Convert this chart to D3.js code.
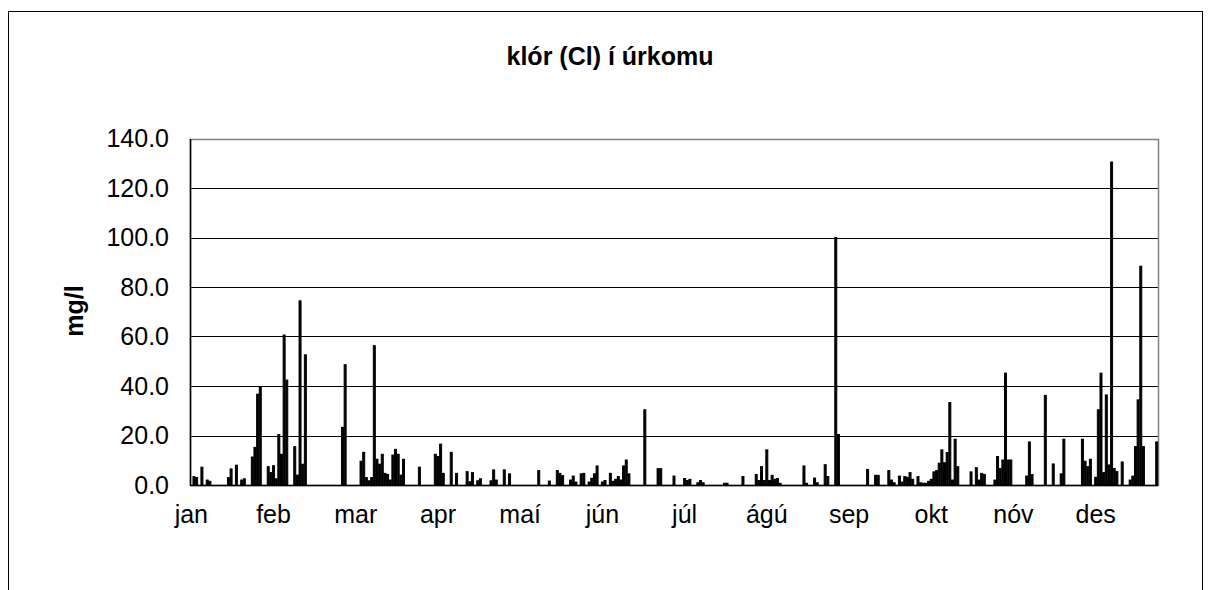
<!DOCTYPE html>
<html>
<head>
<meta charset="utf-8">
<script src="https://cdn.jsdelivr.net/npm/d3@7"></script>
<style>
  body { margin: 0; background: #fff; }
  text { font-family: "Liberation Sans", Arial, sans-serif; fill: #000; }
</style>
</head>
<body>
<svg id="chart" width="1213" height="590"></svg>
<script>
// DATA
// day of year (0 = 1. jan) that has a measurement, and the chloride value in mg/l
const dayIdx = [
  1, 2, 4, 6, 7, 14, 15, 17, 19, 20, 23, 24, 25, 26, 29, 30, 31, 32, 33, 34, 35, 36,
  39, 40, 41, 42, 43, 57, 58,
  64, 65, 66, 67, 68, 69, 70, 71, 72, 73, 74, 75, 76, 77, 78, 79, 80, 86,
  92, 93, 94, 95, 98, 100, 104, 105, 106, 108, 109, 113, 114, 115, 118, 120,
  131, 135, 138, 139, 140, 143, 144, 145, 147, 148, 150, 151, 152, 153, 155, 156,
  158, 159, 160, 161, 162, 163, 164, 165, 171, 176, 177,
  182, 186, 187, 188, 191, 192, 193, 201, 202, 208, 213, 214, 215, 216, 217, 218,
  219, 220, 221, 222, 231, 232, 235, 236, 239, 240, 243, 244,
  255, 258, 259, 263, 264, 265, 267, 268, 269, 270, 271, 272, 274, 275, 276, 277,
  278, 279, 280, 281, 282, 283, 284, 285, 286, 287, 288, 289, 294, 296, 297, 298, 299,
  303, 304, 305, 306, 307, 308, 309, 315, 316, 317, 322, 325, 328, 329,
  336, 337, 338, 339, 341, 342, 343, 344, 345, 346, 347, 348, 349, 351,
  354, 355, 356, 357, 358, 359, 364
];
const clValues = [
  3.4, 3.0, 7.2, 2.0, 1.5, 3.0, 6.5, 8.0, 2.0, 2.5, 11.3, 15.2, 36.7, 39.4, 7.4, 5.0, 7.8, 2.5, 20.4, 12.4, 60.6, 42.4,
  15.5, 4.0, 74.4, 8.4, 52.6, 23.3, 48.6,
  9.6, 13.2, 3.0, 1.7, 3.0, 56.3, 10.4, 8.4, 12.4, 4.7, 4.3, 2.0, 12.1, 14.4, 12.4, 4.0, 10.4, 7.2,
  12.4, 11.5, 16.5, 4.7, 13.2, 4.7, 5.4, 1.3, 5.0, 1.7, 2.5, 1.7, 6.1, 2.0, 6.1, 4.5,
  5.8, 1.6, 5.8, 4.7, 3.8, 2.0, 3.6, 1.2, 4.5, 4.7, 1.2, 2.7, 4.5, 7.7, 1.2, 1.8,
  4.7, 1.5, 2.3, 3.4, 2.0, 7.7, 10.1, 4.5, 30.4, 6.6, 6.6,
  3.6, 2.6, 1.8, 2.3, 0.9, 1.8, 0.9, 0.7, 0.7, 3.4, 4.2, 1.8, 7.4, 1.8, 14.2, 1.8,
  3.9, 2.3, 2.6, 0.7, 7.7, 0.7, 2.8, 0.9, 8.2, 3.4, 100.0, 20.4,
  6.3, 3.9, 3.9, 5.8, 2.0, 0.9, 3.6, 1.2, 3.4, 3.1, 5.0, 2.3, 3.4, 0.9, 0.7, 0.7,
  1.5, 2.3, 5.3, 5.8, 8.8, 14.2, 9.0, 13.1, 33.3, 2.0, 18.5, 7.4, 5.3, 7.0, 2.0, 4.7, 4.3,
  2.0, 11.5, 6.7, 10.1, 45.2, 10.1, 10.1, 3.6, 17.4, 4.2, 36.2, 8.5, 4.5, 18.5,
  18.5, 9.6, 7.4, 10.4, 3.1, 30.4, 45.2, 5.0, 36.4, 8.1, 130.5, 6.7, 5.4, 9.3,
  2.0, 3.6, 15.5, 34.4, 88.4, 15.5, 17.4
];
const monthLabels = ["jan", "feb", "mar", "apr", "maí", "jún", "júl", "ágú", "sep", "okt", "nóv", "des"];
const yTicks = [0, 20, 40, 60, 80, 100, 120, 140];
const nDays = 365;

const svg = d3.select("#chart");

// outer chart frame
svg.append("rect")
  .attr("x", 8.5).attr("y", 11.5)
  .attr("width", 1194).attr("height", 620)
  .attr("fill", "#fff").attr("stroke", "#000").attr("stroke-width", 1);

// plot area
const plotLeft = 190, plotRight = 1158, plotTop = 138.5, plotBottom = 485;

const x = d3.scaleBand()
  .domain(d3.range(nDays))
  .range([plotLeft, plotRight])
  .paddingInner(0.25)
  .paddingOuter(0.12);

const y = d3.scaleLinear()
  .domain([0, 140])
  .range([plotBottom, plotTop]);

// gridlines
svg.append("g")
  .selectAll("line")
  .data(yTicks.filter(d => d > 0 && d < 140))
  .enter()
  .append("line")
  .attr("x1", plotLeft).attr("x2", plotRight)
  .attr("y1", d => Math.round(y(d)) + 0.5)
  .attr("y2", d => Math.round(y(d)) + 0.5)
  .attr("stroke", "#000").attr("stroke-width", 1);

// plot border (gray)
svg.append("rect")
  .attr("x", plotLeft + 0.5).attr("y", Math.round(plotTop) + 0.5)
  .attr("width", plotRight - plotLeft).attr("height", plotBottom - Math.round(plotTop))
  .attr("fill", "none").attr("stroke", "#808080").attr("stroke-width", 1.5);

// bars, black fill with a thin black outline like the original
svg.append("g")
  .selectAll("rect")
  .data(dayIdx.map((d, i) => ({ day: d, value: clValues[i] })))
  .enter()
  .append("rect")
  .attr("x", d => x(d.day))
  .attr("width", x.bandwidth())
  .attr("y", d => y(d.value))
  .attr("height", d => plotBottom - y(d.value))
  .attr("fill", "#000")
  .attr("stroke", "#000")
  .attr("stroke-width", 1);

// y axis
const yAxis = d3.axisLeft(y)
  .tickValues(yTicks)
  .tickFormat(d3.format(".1f"))
  .tickSize(0)
  .tickPadding(21);

const yAxisG = svg.append("g")
  .attr("transform", `translate(${plotLeft},0)`)
  .call(yAxis);
yAxisG.select(".domain").attr("stroke", "#000").attr("stroke-width", 1.5);
yAxisG.selectAll("text")
  .attr("font-family", "Liberation Sans, Arial, sans-serif")
  .attr("font-size", 25)
  .attr("fill", "#000");

// x axis line
svg.append("line")
  .attr("x1", plotLeft).attr("x2", plotRight)
  .attr("y1", plotBottom + 0.5).attr("y2", plotBottom + 0.5)
  .attr("stroke", "#000").attr("stroke-width", 1.5);

// month labels, every 31st day
svg.append("g")
  .selectAll("text")
  .data(monthLabels)
  .enter()
  .append("text")
  .attr("x", (d, i) => x(i * 31) + x.bandwidth() / 2)
  .attr("y", 523)
  .attr("text-anchor", "middle")
  .attr("font-size", 25)
  .text(d => d);

// title
svg.append("text")
  .attr("x", 610).attr("y", 65)
  .attr("text-anchor", "middle")
  .attr("font-size", 25)
  .attr("font-weight", "bold")
  .text("klór (Cl) í úrkomu");

// y axis title
svg.append("text")
  .attr("transform", "translate(83,311) rotate(-90)")
  .attr("text-anchor", "middle")
  .attr("font-size", 25)
  .attr("font-weight", "bold")
  .text("mg/l");
</script>
</body>
</html>
